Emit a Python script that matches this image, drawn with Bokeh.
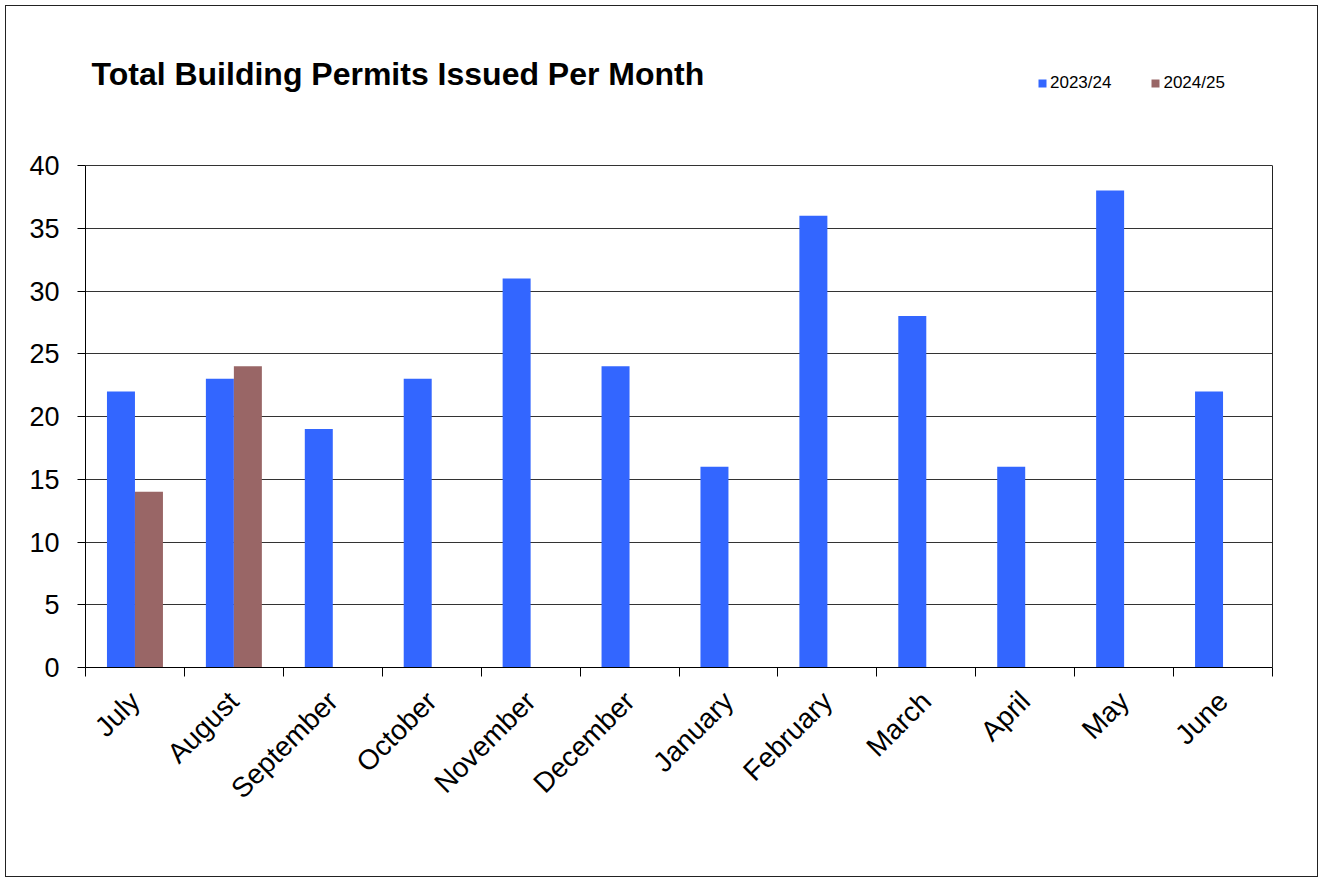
import math
from bokeh.plotting import figure
from bokeh.models import (ColumnDataSource, FixedTicker, Label, Legend, LegendItem,
                          Range1d, LinearAxis)
from bokeh.transform import dodge
from bokeh.embed import file_html
from bokeh.resources import INLINE

months = ["July", "August", "September", "October", "November", "December",
          "January", "February", "March", "April", "May", "June"]
series_2023_24 = [22, 23, 19, 23, 31, 24, 16, 36, 28, 16, 38, 22]
series_2024_25 = [14, 24]
series_names = ["2023/24", "2024/25"]
colors = ["#3366FF", "#996666"]
title_text = "Total Building Permits Issued Per Month"
y_ticks = [0, 5, 10, 15, 20, 25, 30, 35, 40]
y_max = 40

FONT = "Liberation Sans"
BAR_W = 0.283

# layout (pixels on the page)
CANVAS_X, CANVAS_Y = 6, 6
FIG_W, FIG_H = 1313, 872
AX_LEFT, AX_RIGHT = 85, 1272
AX_TOP, AX_BOTTOM = 165, 667        # where 40 and 0 sit
FRAME_TOP = 26
# the frame reaches up to FRAME_TOP so that title and legend sit inside it
y_end = y_max * (AX_BOTTOM - FRAME_TOP) / (AX_BOTTOM - AX_TOP)

centers = [i + 0.5 for i in range(len(months))]
src_a = ColumnDataSource(dict(x=centers, top=series_2023_24))
src_b = ColumnDataSource(dict(x=centers[:len(series_2024_25)], top=series_2024_25))

p = figure(width=FIG_W, height=FIG_H, output_backend="svg", toolbar_location=None,
           x_range=Range1d(0, len(months)), y_range=Range1d(0, y_end),
           min_border_left=AX_LEFT - CANVAS_X,
           min_border_right=CANVAS_X + FIG_W - AX_RIGHT,
           min_border_top=FRAME_TOP - CANVAS_Y,
           min_border_bottom=CANVAS_Y + FIG_H - AX_BOTTOM)
p.styles = {"border": "1px solid #222", "box-sizing": "border-box",
            "margin": "5px 0 0 5px"}

r_a = p.vbar(x=dodge("x", -BAR_W / 2, range=p.x_range), top="top", width=BAR_W,
             source=src_a, fill_color=colors[0], line_color=None)
r_b = p.vbar(x=dodge("x", BAR_W / 2, range=p.x_range), top="top", width=BAR_W,
             source=src_b, fill_color=colors[1], line_color=None)

p.outline_line_color = None
p.xgrid.visible = False
p.ygrid.grid_line_color = "#333333"
p.ygrid.grid_line_width = 1
p.ygrid.ticker = FixedTicker(ticks=y_ticks)

# x axis: labels at category centers, tick marks at category boundaries
xa = p.xaxis[0]
xa.ticker = FixedTicker(ticks=centers, minor_ticks=list(range(len(months) + 1)))
xa.major_label_overrides = {c: m for c, m in zip(centers, months)}
xa.major_tick_out = 0
xa.major_tick_in = 0
xa.minor_tick_out = 9
xa.minor_tick_in = 0
xa.minor_tick_line_color = "black"
xa.axis_line_color = "black"
xa.major_label_orientation = math.pi / 4
xa.major_label_text_font = FONT
xa.major_label_text_font_size = "28px"
xa.major_label_text_color = "black"
xa.major_label_standoff = 20

ya = p.yaxis[0]
ya.bounds = (0, y_max)
ya.ticker = FixedTicker(ticks=y_ticks)
ya.major_tick_out = 8
ya.major_tick_in = 0
ya.minor_tick_out = 0
ya.minor_tick_in = 0
ya.axis_line_color = "black"
ya.major_tick_line_color = "black"
ya.major_label_text_font = FONT
ya.major_label_text_font_size = "27px"
ya.major_label_text_color = "black"
ya.major_label_standoff = 18

# right edge of the plot area
ra = LinearAxis(bounds=(0, y_max), ticker=FixedTicker(ticks=[]),
                axis_line_color="#222222", major_tick_out=0, major_tick_in=0,
                minor_tick_out=0, minor_tick_in=0, major_label_text_font_size="0px")
p.add_layout(ra, "right")

title = Label(x=6, y=AX_BOTTOM - 73, x_units="screen", y_units="screen", text=title_text,
              text_font=FONT, text_font_size="32px", text_font_style="bold",
              text_color="black", text_baseline="alphabetic")
p.add_layout(title)

legend = Legend(items=[LegendItem(label=series_names[0], renderers=[r_a]),
                       LegendItem(label=series_names[1], renderers=[r_b])],
                location=(952, AX_BOTTOM - 93), orientation="horizontal",
                glyph_width=10, glyph_height=10, label_standoff=3, spacing=39,
                padding=0, margin=0, border_line_color=None,
                background_fill_alpha=0,
                label_text_font=FONT, label_text_font_size="17px",
                label_text_color="black")
p.add_layout(legend)

open("out.html", "w").write(file_html(p, INLINE))
